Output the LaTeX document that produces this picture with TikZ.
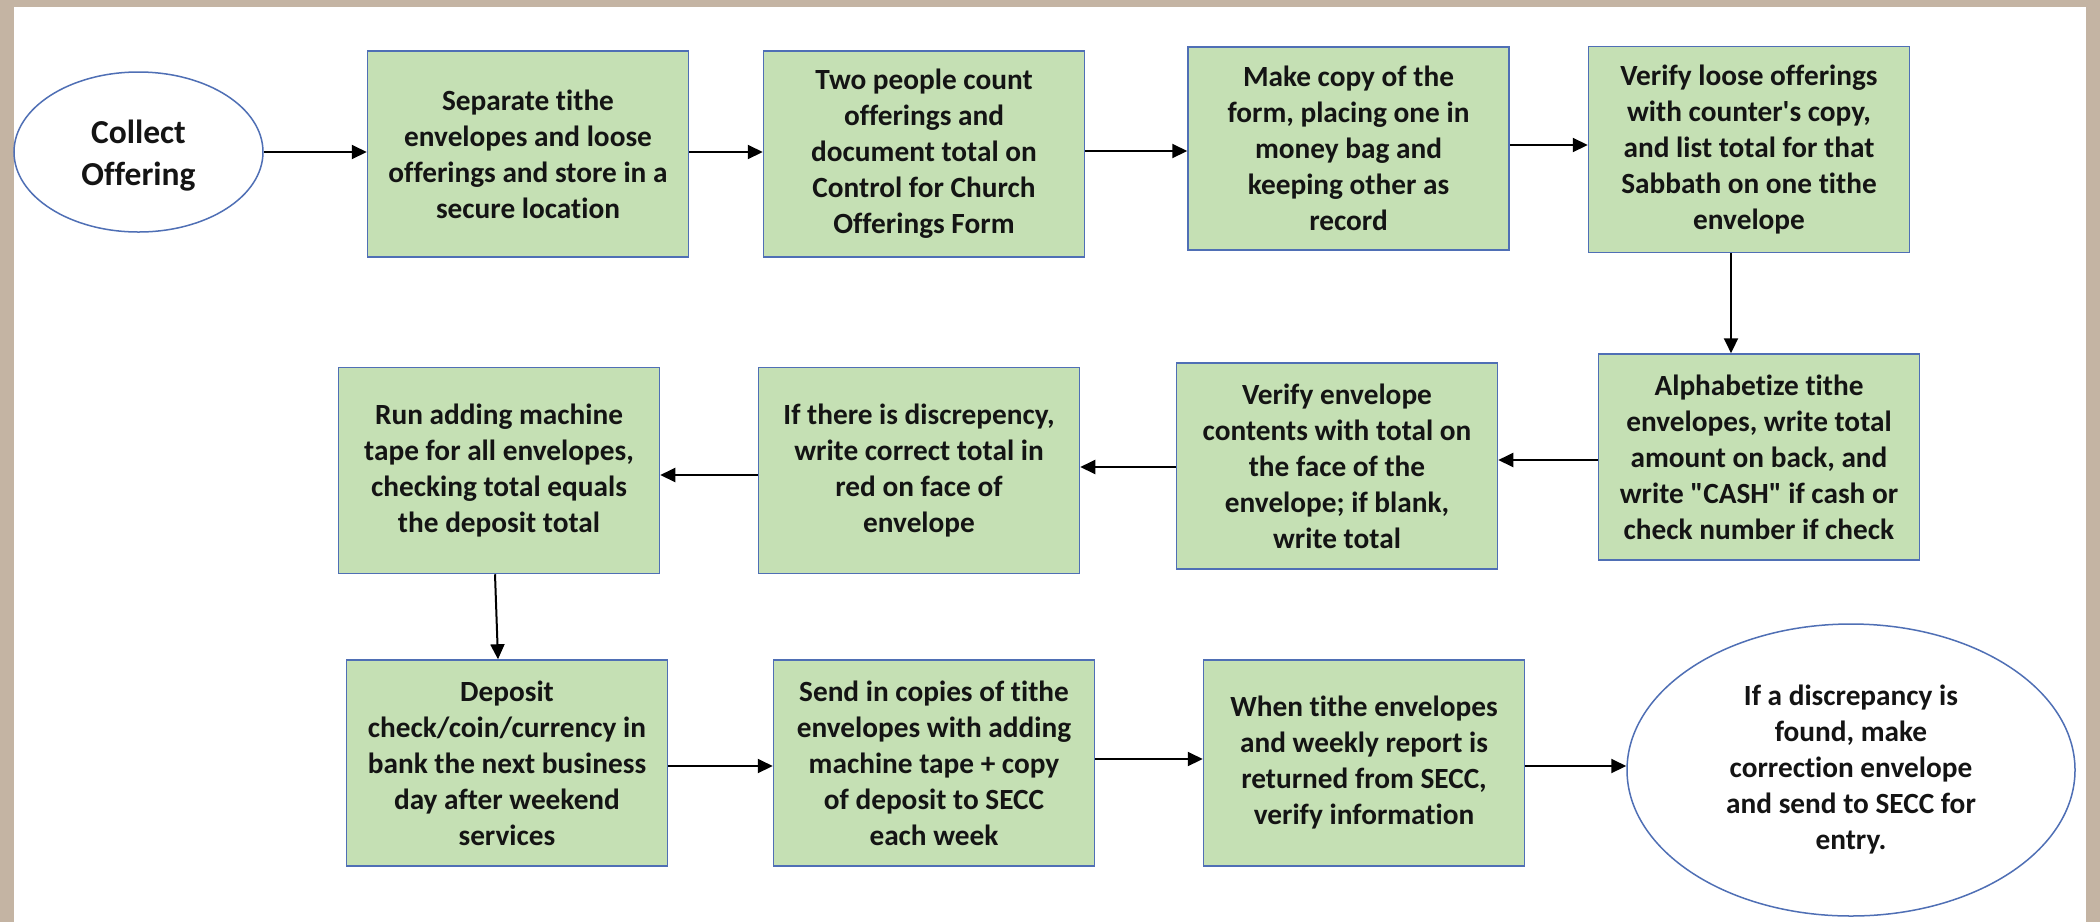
\documentclass[tikz,border=0pt]{standalone}
\usepackage{fontspec}
\setmainfont{Carlito}[Ligatures={TeX,NoCommon},RawFeature={-liga;-clig;-calt;-dlig;-hlig}]
\usetikzlibrary{arrows.meta,shapes.geometric}
\definecolor{frameC}{HTML}{C4B4A3}
\definecolor{boxfill}{HTML}{C5E0B4}
\definecolor{boxdraw}{HTML}{4F6FB5}
\definecolor{txt}{HTML}{141414}
\newcommand\tiNL{t\kern0pt i}
\begin{document}
\begin{tikzpicture}[x=1pt,y=-1pt,
  stepbox/.style={draw=boxdraw, fill=boxfill, line width=1.5pt, inner sep=0pt,
    minimum width=321pt, minimum height=206pt, align=center, text=txt,
    font=\bfseries\fontsize{29.3}{36}\selectfont},
  endoval/.style={ellipse, draw=boxdraw, fill=white, line width=1.5pt, inner sep=0pt,
    align=center, text=txt, font=\bfseries\fontsize{29.3}{36}\selectfont},
  arr/.style={draw=black, line width=2pt, -{Triangle[length=15pt,width=14pt]}}]
\useasboundingbox (0,0) rectangle (2100,922);
\fill[frameC] (0,0) rectangle (2100,922);
\fill[white] (14,7) rectangle (2086,922);

% row 1
\node[endoval, minimum width=249pt, minimum height=160pt,
  font=\bfseries\fontsize{33.5}{42}\selectfont] (e1) at (138.5,152) {\rule{0pt}{30pt}Collect\\Offering};
\node[stepbox] (b1) at (528,154) {Separate \tiNL the\\envelopes and loose\\offerings and store in a\\secure loca\tiNL on};
\node[stepbox] (b2) at (924,154) {Two people count\\offerings and\\document total on\\Control for Church\\Offerings Form};
\node[stepbox, minimum height=203pt] (b3) at (1348.5,148.5) {Make copy of the\\form, placing one in\\money bag and\\keeping other as\\record};
\node[stepbox] (b4) at (1749,149.5) {Verify loose offerings\\with counter\textquotesingle s copy,\\and list total for that\\Sabbath on one \tiNL the\\envelope};

% row 2
\node[stepbox] (b5) at (1759,457) {Alphabe\tiNL ze \tiNL the\\envelopes, write total\\amount on back, and\\write \textquotedbl CASH\textquotedbl{} if cash or\\check number if check};
\node[stepbox] (b6) at (1337,466) {Verify envelope\\contents with total on\\the face of the\\envelope; if blank,\\write total};
\node[stepbox] (b7) at (919,470.5) {If there is discrepency,\\write correct total in\\red on face of\\envelope};
\node[stepbox] (b8) at (499,470.5) {Run adding machine\\tape for all envelopes,\\checking total equals\\the deposit total};

% row 3
\node[stepbox] (b9) at (507,763) {Deposit\\check/coin/currency in\\bank the next business\\day after weekend\\services};
\node[stepbox] (b10) at (934,763) {Send in copies of \tiNL the\\envelopes with adding\\machine tape + copy\\of deposit to SECC\\each week};
\node[stepbox] (b11) at (1364,763) {When \tiNL the envelopes\\and weekly report is\\returned from SECC,\\verify informa\tiNL on};
\node[endoval, minimum width=448pt, minimum height=292pt] (e2) at (1851,770) {If a discrepancy is\\found, make\\correc\tiNL on envelope\\and send to SECC for\\entry.};

% helper levels
\coordinate (ya) at (0,152);
\coordinate (yb) at (0,151);
\coordinate (yc) at (0,145);
\coordinate (yd) at (0,460);
\coordinate (ye) at (0,467);
\coordinate (yf) at (0,475);
\coordinate (yg) at (0,766);
\coordinate (yh) at (0,759);
\coordinate (xa) at (1731,0);
\coordinate (xb) at (495,0);
\coordinate (xc) at (498,0);

% connectors
\draw[arr] (e1.east) -- (b1.west |- e1.east);
\draw[arr] (b1.east |- ya) -- (b2.west |- ya);
\draw[arr] (b2.east |- yb) -- (b3.west |- yb);
\draw[arr] (b3.east |- yc) -- (b4.west |- yc);
\draw[arr] (b4.south -| xa) -- (b5.north -| xa);
\draw[arr] (b5.west |- yd) -- (b6.east |- yd);
\draw[arr] (b6.west |- ye) -- (b7.east |- ye);
\draw[arr] (b7.west |- yf) -- (b8.east |- yf);
\draw[arr] (b8.south -| xb) -- (b9.north -| xc);
\draw[arr] (b9.east |- yg) -- (b10.west |- yg);
\draw[arr] (b10.east |- yh) -- (b11.west |- yh);
\draw[arr] (b11.east |- yg) -- (e2.west |- yg);
\end{tikzpicture}
\end{document}
